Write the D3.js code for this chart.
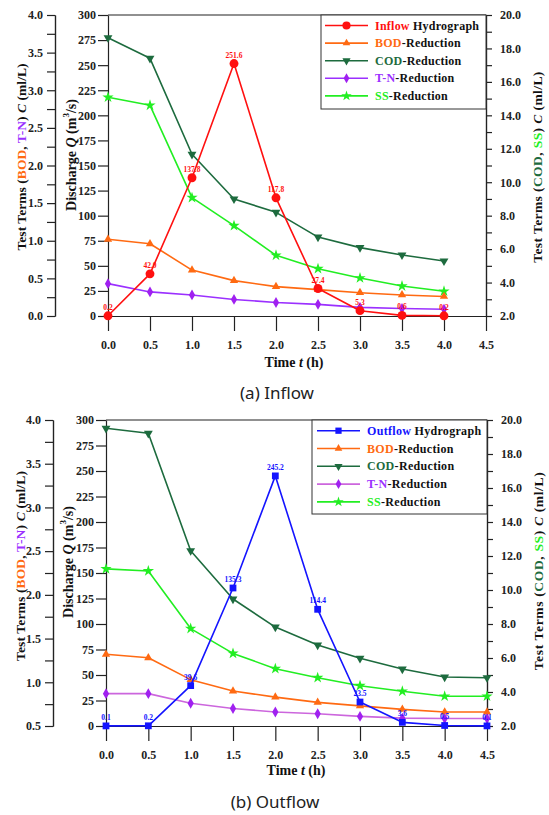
<!DOCTYPE html>
<html>
<head>
<meta charset="utf-8">
<script src="https://cdn.jsdelivr.net/npm/d3@7"></script>
<style>
  body { margin: 0; background: #fff; }
  svg { display: block; }
</style>
</head>
<body>
<script>
// ---- data -------------------------------------------------------------
// Inflow event (panel a)
const timeIn = [0, 0.5, 1.0, 1.5, 2.0, 2.5, 3.0, 3.5, 4.0];
const inflowQ   = [0.2, 42.0, 137.8, 251.6, 117.8, 27.4, 5.3, 0.6, 0.2];
const inflowBOD = [1.02, 0.96, 0.61, 0.47, 0.39, 0.35, 0.31, 0.28, 0.26];
const inflowCOD = [18.64, 17.41, 11.67, 9.00, 8.20, 6.72, 6.09, 5.65, 5.29];
const inflowTN  = [0.43, 0.32, 0.28, 0.22, 0.18, 0.155, 0.115, 0.10, 0.09];
const inflowSS  = [15.08, 14.60, 9.08, 7.40, 5.63, 4.83, 4.27, 3.79, 3.48];

// Outflow event (panel b)
const timeOut = [0, 0.5, 1.0, 1.5, 2.0, 2.5, 3.0, 3.5, 4.0, 4.5];
const outflowQ   = [0.1, 0.2, 39.6, 135.3, 245.2, 114.4, 23.5, 3.6, 0.5, 0.1];
const outflowBOD = [1.32, 1.28, 1.03, 0.90, 0.83, 0.77, 0.73, 0.69, 0.66, 0.66];
const outflowCOD = [19.51, 19.22, 12.31, 9.47, 7.82, 6.76, 5.98, 5.35, 4.88, 4.84];
const outflowTN  = [0.87, 0.87, 0.76, 0.70, 0.66, 0.64, 0.61, 0.59, 0.585, 0.585];
const outflowSS  = [11.24, 11.12, 7.73, 6.27, 5.37, 4.84, 4.37, 4.04, 3.75, 3.75];

// Axis ticks
const xTicks = [0, 0.5, 1.0, 1.5, 2.0, 2.5, 3.0, 3.5, 4.0, 4.5];
const qTicks = [0, 25, 50, 75, 100, 125, 150, 175, 200, 225, 250, 275, 300];
const rightTicks = [2, 4, 6, 8, 10, 12, 14, 16, 18, 20];
const rightMinor = [3, 5, 7, 9, 11, 13, 15, 17, 19];
const leftTicksA = [0, 0.5, 1.0, 1.5, 2.0, 2.5, 3.0, 3.5, 4.0];
const leftMinorA = [0.25, 0.75, 1.25, 1.75, 2.25, 2.75, 3.25, 3.75];
const leftTicksB = [0.5, 1.0, 1.5, 2.0, 2.5, 3.0, 3.5, 4.0];
const leftMinorB = [0.75, 1.25, 1.75, 2.25, 2.75, 3.25, 3.75];

// ---- styling ----------------------------------------------------------
const SERIF = "'Liberation Serif','Times New Roman',serif";
const COL = {
  red: "#ff1010", blue: "#1414ff", orange: "#ff6a12", cod: "#1d6b3e",
  tn: "#9b30ff", tnLine: "#cc66dd", tnMark: "#a020f0", ss: "#22ee22"
};

const svg = d3.select("body").append("svg")
  .attr("width", 549).attr("height", 815)
  .style("background", "#fff");

// spread the letters of a text element so it covers a given length
function fitText(sel, target) {
  const node = sel.node();
  const len = node.getComputedTextLength();
  const n = node.textContent.length;
  const ls = n > 1 ? (target - len) / (n - 1) : 0;
  sel.attr("letter-spacing", ls.toFixed(2));
  return ls;
}

function marker(g, kind, x, y, color, scale = 1) {
  const sym = {
    circle: [d3.symbolCircle, 62],
    square: [d3.symbolSquare, 46],
    up: [d3.symbolTriangle, 30],
    down: [d3.symbolTriangle, 34],
    diamond: [d3.symbolDiamond, 34],
    star: [d3.symbolStar, 40]
  }[kind];
  g.append("path")
    .attr("d", d3.symbol(sym[0], sym[1] * scale)())
    .attr("transform", `translate(${x},${y})` + (kind === "down" ? " rotate(180)" : ""))
    .attr("fill", color);
}

function styleAxis(g, fontSize = 12) {
  g.attr("font-family", SERIF);
  g.selectAll("path, line").attr("stroke", "#222").attr("stroke-width", 1.2);
  g.selectAll("text")
    .attr("font-family", SERIF).attr("font-weight", "bold")
    .attr("font-size", fontSize).attr("fill", "#222");
}

function panel(o) {
  const g = svg.append("g");
  const x = d3.scaleLinear().domain([0, 4.5]).range([o.x0, o.x1]);
  const yQ = d3.scaleLinear().domain([0, 300]).range([o.y1, o.y0]);
  const yL = d3.scaleLinear().domain(o.leftDomain).range([o.y1, o.y0]);
  const yR = d3.scaleLinear().domain([2, 20]).range([o.y1, o.y0]);
  const fmt1 = d3.format(".1f");

  // frame top edge
  g.append("line").attr("x1", o.x0).attr("x2", o.x1).attr("y1", o.y0).attr("y2", o.y0)
    .attr("stroke", "#222").attr("stroke-width", 1.2);

  // x axis
  styleAxis(g.append("g").attr("transform", `translate(0,${o.y1})`)
    .call(d3.axisBottom(x).tickValues(xTicks).tickFormat(fmt1)
      .tickSize(15).tickSizeOuter(0).tickPadding(9)));

  // discharge axis
  styleAxis(g.append("g").attr("transform", `translate(${o.x0},0)`)
    .call(d3.axisLeft(yQ).tickValues(qTicks).tickFormat(d3.format("d"))
      .tickSize(10).tickSizeOuter(0).tickPadding(2)));

  // outer concentration axis (BOD, T-N)
  styleAxis(g.append("g").attr("transform", `translate(${o.leftX},0)`)
    .call(d3.axisLeft(yL).tickValues(o.leftTicks).tickFormat(fmt1)
      .tickSize(8).tickSizeOuter(0).tickPadding(4)));
  styleAxis(g.append("g").attr("transform", `translate(${o.leftX},0)`)
    .call(d3.axisLeft(yL).tickValues(o.leftMinor).tickFormat("")
      .tickSize(8).tickSizeOuter(0)));

  // right concentration axis (COD, SS)
  styleAxis(g.append("g").attr("transform", `translate(${o.x1},0)`)
    .call(d3.axisRight(yR).tickValues(rightTicks).tickFormat(fmt1)
      .tickSize(6).tickSizeOuter(0).tickPadding(8)));
  styleAxis(g.append("g").attr("transform", `translate(${o.x1},0)`)
    .call(d3.axisRight(yR).tickValues(rightMinor).tickFormat("")
      .tickSize(6).tickSizeOuter(0)));

  // concentration series
  const series = [
    { vals: o.cod, y: yR, line: COL.cod, mark: COL.cod, kind: "down" },
    { vals: o.ss,  y: yR, line: COL.ss,  mark: COL.ss,  kind: "star" },
    { vals: o.bod, y: yL, line: COL.orange, mark: COL.orange, kind: "up" },
    { vals: o.tn,  y: yL, line: o.tnLine, mark: COL.tnMark, kind: "diamond" }
  ];
  const path = d3.line();
  series.forEach(s => {
    const pts = o.time.map((t, i) => [x(t), s.y(s.vals[i])]);
    g.append("path")
      .attr("d", path(pts))
      .attr("fill", "none").attr("stroke", s.line).attr("stroke-width", 1.6)
      .attr("stroke-linejoin", "round");
    pts.forEach(p => marker(g, s.kind, p[0], p[1], s.mark));
  });

  // hydrograph
  const hp = o.time.map((t, i) => [x(t), yQ(o.q[i])]);
  g.append("path").attr("d", path(hp))
    .attr("fill", "none").attr("stroke", o.qColor).attr("stroke-width", 1.6)
    .attr("stroke-linejoin", "round");
  hp.forEach(p => marker(g, o.qKind, p[0], p[1], o.qColor));
  g.selectAll(null).data(o.q).join("text")
    .attr("x", (d, i) => hp[i][0]).attr("y", (d, i) => hp[i][1] - 6)
    .attr("text-anchor", "middle")
    .attr("font-family", SERIF).attr("font-weight", "bold").attr("font-size", 7.5)
    .attr("fill", o.qColor)
    .text(d => fmt1(d));

  // legend
  const L = o.legend;
  g.append("rect").attr("x", L.x).attr("y", L.y).attr("width", L.w).attr("height", L.h)
    .attr("fill", "#fff").attr("stroke", "#333").attr("stroke-width", 1);
  const items = [
    { c: o.qColor, line: o.qColor, kind: o.qKind, a: o.qName, b: " Hydrograph" },
    { c: COL.orange, line: COL.orange, kind: "up", a: "BOD", b: "-Reduction" },
    { c: COL.cod, line: COL.cod, kind: "down", a: "COD", b: "-Reduction" },
    { c: COL.tnMark, line: o.tnLine, kind: "diamond", a: "T-N", b: "-Reduction" },
    { c: COL.ss, line: COL.ss, kind: "star", a: "SS", b: "-Reduction" }
  ];
  let spacing = null;
  items.forEach((it, i) => {
    const yy = L.row0 + i * L.step;
    g.append("line").attr("x1", L.lx0).attr("x2", L.lx1).attr("y1", yy).attr("y2", yy)
      .attr("stroke", it.line).attr("stroke-width", 1.6);
    marker(g, it.kind, (L.lx0 + L.lx1) / 2, yy, it.c, 0.85);
    const t = g.append("text").attr("x", L.tx).attr("y", yy)
      .attr("dominant-baseline", "central")
      .attr("font-family", SERIF).attr("font-weight", "bold").attr("font-size", 12);
    t.append("tspan").attr("fill", i === 3 ? COL.tn : it.c).text(it.a);
    t.append("tspan").attr("fill", "#111").text(it.b);
    if (spacing === null) spacing = fitText(t, L.tw);
    else t.attr("letter-spacing", spacing.toFixed(2));
  });

  // axis titles
  const T = o.titles;
  const lt = g.append("text")
    .attr("transform", `translate(${T.left[0]},${T.left[1]}) rotate(-90)`)
    .attr("text-anchor", "middle").attr("dominant-baseline", "central")
    .attr("font-family", SERIF).attr("font-weight", "bold").attr("font-size", 13.5).attr("fill", "#111");
  lt.append("tspan").text("Test Terms (");
  lt.append("tspan").attr("fill", COL.orange).text("BOD");
  lt.append("tspan").text(", ");
  lt.append("tspan").attr("fill", COL.tn).text("T-N");
  lt.append("tspan").text(") ");
  lt.append("tspan").attr("font-style", "italic").text("C");
  lt.append("tspan").text(" (ml/L)");
  fitText(lt, T.left[2]);

  const qt = g.append("text")
    .attr("transform", `translate(${T.q[0]},${T.q[1]}) rotate(-90)`)
    .attr("text-anchor", "middle").attr("dominant-baseline", "central")
    .attr("font-family", SERIF).attr("font-weight", "bold").attr("font-size", 14).attr("fill", "#111");
  qt.append("tspan").text("Discharge ");
  qt.append("tspan").attr("font-style", "italic").text("Q");
  qt.append("tspan").text(" (m");
  qt.append("tspan").attr("font-size", 9).attr("dy", -5).text("3");
  qt.append("tspan").attr("dy", 5).text("/s)");

  const rt = g.append("text")
    .attr("transform", `translate(${T.right[0]},${T.right[1]}) rotate(-90)`)
    .attr("text-anchor", "middle").attr("dominant-baseline", "central")
    .attr("font-family", SERIF).attr("font-weight", "bold").attr("font-size", 13.5).attr("fill", "#111");
  rt.append("tspan").text("Test Terms (");
  rt.append("tspan").attr("fill", COL.cod).text("COD");
  rt.append("tspan").text(", ");
  rt.append("tspan").attr("fill", COL.ss).text("SS");
  rt.append("tspan").text(") ");
  rt.append("tspan").attr("font-style", "italic").text("C");
  rt.append("tspan").text(" (ml/L)");
  fitText(rt, T.right[2]);

  const xt = g.append("text").attr("x", T.x[0]).attr("y", T.x[1])
    .attr("text-anchor", "middle").attr("dominant-baseline", "central")
    .attr("font-family", SERIF).attr("font-weight", "bold").attr("font-size", 14).attr("fill", "#111");
  xt.append("tspan").text("Time ");
  xt.append("tspan").attr("font-style", "italic").text("t");
  xt.append("tspan").text(" (h)");

  g.append("text").attr("x", T.cap[0]).attr("y", T.cap[1])
    .attr("text-anchor", "middle").attr("dominant-baseline", "central")
    .attr("font-family", "'Noto Sans','Open Sans',sans-serif").attr("font-size", 17)
    .attr("fill", "#222").text(o.caption);
}

panel({
  x0: 108, x1: 486, y0: 15, y1: 316, leftX: 55,
  leftDomain: [0, 4], leftTicks: leftTicksA, leftMinor: leftMinorA,
  time: timeIn, q: inflowQ, bod: inflowBOD, cod: inflowCOD, tn: inflowTN, ss: inflowSS,
  qColor: COL.red, qKind: "circle", qName: "Inflow", tnLine: COL.tn,
  legend: { x: 321, y: 15, w: 165, h: 94, row0: 25.5, step: 17.6, lx0: 325, lx1: 368, tx: 375, tw: 104 },
  titles: { left: [21, 157, 187], q: [71, 155], right: [537, 167, 191], x: [294, 362], cap: [277, 392] },
  caption: "(a) Inflow"
});

panel({
  x0: 106, x1: 487, y0: 420, y1: 726, leftX: 53,
  leftDomain: [0.5, 4], leftTicks: leftTicksB, leftMinor: leftMinorB,
  time: timeOut, q: outflowQ, bod: outflowBOD, cod: outflowCOD, tn: outflowTN, ss: outflowSS,
  qColor: COL.blue, qKind: "square", qName: "Outflow", tnLine: COL.tnLine,
  legend: { x: 312, y: 420, w: 175, h: 94, row0: 430.7, step: 17.8, lx0: 317, lx1: 360, tx: 367, tw: 114 },
  titles: { left: [20, 566, 190], q: [68, 562], right: [538, 571, 198], x: [296, 770], cap: [275, 801] },
  caption: "(b) Outflow"
});
</script>
</body>
</html>
